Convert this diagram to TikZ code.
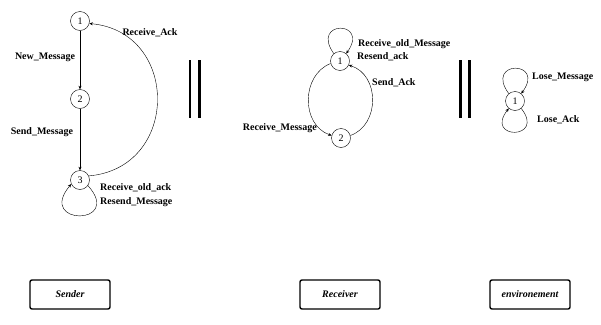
\documentclass[tikz,border=0pt]{standalone}
\usepackage{fontspec}
\setmainfont{Liberation Serif}
\usetikzlibrary{arrows.meta}

\tikzset{
  state/.style={draw,circle,minimum size=19pt,inner sep=0pt,font=\fontsize{10}{12}\selectfont},
  lbl/.style={font=\fontsize{10}{12}\selectfont\bfseries,inner sep=0pt},
  proc/.style={draw,line width=1.4pt,rounded corners=2pt,minimum width=80pt,minimum height=29pt,
    font=\fontsize{10}{12}\selectfont\bfseries\itshape},
  trans/.style={-{Stealth[length=3.5pt,width=3pt]}},
  bar/.style={line width=2.6pt}
}

\begin{document}
\begin{tikzpicture}[x=1pt,y=-1pt]
  \useasboundingbox (0,0) rectangle (601,324);
  % sender
  \node[state] (s1) at (80,21) {1};
  \node[state] (s2) at (80,99) {2};
  \node[state] (s3) at (80,180) {3};
  \draw[trans] (s1) -- (s2);
  \draw[trans] (s2) -- (s3);
  \draw[trans] (s3.25) .. controls (180,168) and (180,32) .. (s1.-15);
  \draw[trans] (s3.-35) .. controls (124,226) and (36,226) .. (s3.205);
  \node[lbl] at (45,57) {New\_Message};
  \node[lbl] at (42,132) {Send\_Message};
  \node[lbl] at (150,33) {Receive\_Ack};
  \node[lbl,anchor=west] at (100,188) {Receive\_old\_ack};
  \node[lbl,anchor=west] at (100,202) {Resend\_Message};
  \draw[bar] (190,60) -- (190,118);
  \draw[bar] (199.5,60) -- (199.5,118);
  % receiver
  \node[state] (r1) at (340,61) {1};
  \node[state] (r2) at (341,138) {2};
  \draw[trans] (r1.130) .. controls (310,20) and (370,20) .. (r1.50);
  \draw[trans] (r1.195) .. controls (301,75) and (301,125) .. (r2.165);
  \draw[trans] (r2.15) .. controls (380,125) and (380,75) .. (r1.-25);
  \node[lbl,anchor=west] at (358,44) {Receive\_old\_Message};
  \node[lbl,anchor=west] at (357,57) {Resend\_ack};
  \node[lbl,anchor=west] at (372,83) {Send\_Ack};
  \node[lbl,anchor=east] at (317,128) {Receive\_Message};
  \draw[bar] (460.5,60) -- (460.5,118);
  \draw[bar] (469.5,60) -- (469.5,118);
  % environement
  \node[state] (e1) at (515,101) {1};
  \draw[trans] (e1.130) .. controls (484,60) and (546,60) .. (e1.50);
  \draw[trans] (e1.-50) .. controls (546,140) and (484,140) .. (e1.230);
  \node[lbl,anchor=west] at (532,77) {Lose\_Message};
  \node[lbl,anchor=west] at (537,120) {Lose\_Ack};
  % processes
  \node[proc] (sender) at (70,294.5) {Sender};
  \node[proc] (receiver) at (340,294.5) {Receiver};
  \node[proc] (env) at (530,294.5) {environement};
\end{tikzpicture}
\end{document}
